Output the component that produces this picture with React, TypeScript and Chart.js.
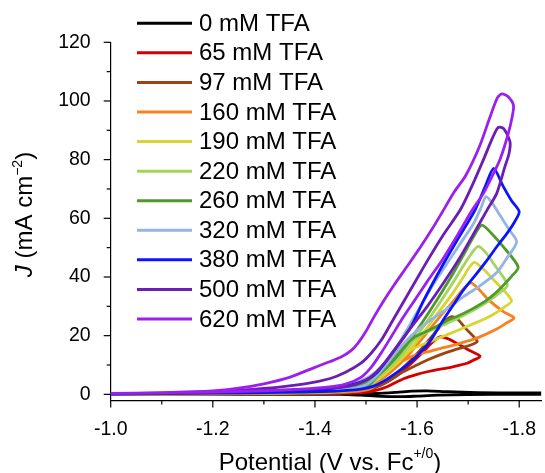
import { useEffect, useRef } from "react";
import { Chart, registerables } from "chart.js";

Chart.register(...registerables);

const FONT = '"Liberation Sans", Arial, Helvetica, sans-serif';

const seriesLabels = [
  "0 mM TFA", "65 mM TFA", "97 mM TFA", "160 mM TFA", "190 mM TFA", "220 mM TFA",
  "260 mM TFA", "320 mM TFA", "380 mM TFA", "500 mM TFA", "620 mM TFA",
];
const seriesColors = [
  "#000000", "#d40000", "#9b4514", "#f5821f", "#d8d430", "#a3d45c",
  "#4e9a2c", "#93b5e0", "#0a14ff", "#6a1eb4", "#9a1ff0",
];

const xTickValues = [-1.0, -1.1, -1.2, -1.3, -1.4, -1.5, -1.6, -1.7, -1.8];
const yTickValues = [0, 10, 20, 30, 40, 50, 60, 70, 80, 90, 100, 110, 120];

const v0 = [-1.0, -1.3, -1.45, -1.52, -1.56, -1.59, -1.62, -1.66, -1.72, -1.8, -1.9, -1.9, -1.8, -1.7, -1.64, -1.6, -1.57, -1.53, -1.49, -1.45, -1.3, -1.0];
const j0 = [0.1, 0.1, 0.15, 0.3, 0.7, 1.1, 1.2, 0.9, 0.6, 0.5, 0.5, 0.1, 0.0, -0.1, -0.3, -0.6, -0.8, -0.7, -0.3, 0.0, 0.0, 0.0];

const v65 = [-1.0, -1.2, -1.3, -1.4, -1.45, -1.5, -1.53, -1.56, -1.59, -1.615, -1.63, -1.645, -1.66, -1.68, -1.7, -1.7235, -1.71, -1.698, -1.68, -1.66, -1.64, -1.62, -1.6, -1.575, -1.555, -1.54, -1.523, -1.5, -1.47, -1.4, -1.2, -1.0];
const j65 = [0.05, 0.1, 0.15, 0.3, 0.6, 1.5, 3.2, 6.3, 10.8, 15, 17.8, 19.6, 19.0, 17.2, 15.2, 13.0, 11.6, 10.6, 9.8, 9.0, 8.4, 7.7, 6.8, 5.4, 3.8, 2.5, 1.5, 0.7, 0.4, 0.2, 0.1, 0.05];

const v97 = [-1.0, -1.2, -1.3, -1.4, -1.45, -1.49, -1.52, -1.55, -1.58, -1.61, -1.635, -1.655, -1.668, -1.68, -1.695, -1.718, -1.705, -1.69, -1.672, -1.65, -1.62, -1.595, -1.568, -1.548, -1.529, -1.503, -1.47, -1.4, -1.2, -1.0];
const j97 = [0.05, 0.1, 0.2, 0.4, 0.7, 1.4, 2.8, 5.8, 10.3, 15.8, 21, 25, 26.5, 25.5, 22.5, 18.0, 16.8, 16.0, 15.1, 13.8, 11.7, 9.6, 7.2, 5.0, 3.2, 1.5, 0.8, 0.4, 0.1, 0.05];

const v160 = [-1.0, -1.2, -1.3, -1.4, -1.45, -1.49, -1.52, -1.55, -1.58, -1.61, -1.64, -1.67, -1.69, -1.705, -1.72, -1.74, -1.769, -1.79, -1.775, -1.755, -1.723, -1.7, -1.672, -1.645, -1.62, -1.588, -1.555, -1.53, -1.51, -1.48, -1.4, -1.2, -1.0];
const j160 = [0.05, 0.15, 0.3, 0.6, 1.0, 2.0, 4.0, 7.8, 12.8, 19, 25.5, 31.5, 35.8, 38, 36, 32.2, 28.2, 26, 24.3, 22.2, 19.6, 18.2, 16.8, 15.6, 14.5, 12.8, 9.4, 4.9, 2.0, 1.0, 0.5, 0.15, 0.05];

const v190 = [-1.0, -1.2, -1.3, -1.4, -1.45, -1.49, -1.52, -1.55, -1.58, -1.61, -1.64, -1.67, -1.69, -1.703, -1.712, -1.725, -1.75, -1.785, -1.77, -1.75, -1.73, -1.7, -1.663, -1.63, -1.595, -1.57, -1.548, -1.521, -1.5, -1.46, -1.4, -1.2, -1.0];
const j190 = [0.05, 0.2, 0.4, 0.8, 1.3, 2.5, 4.7, 8.8, 14, 20.5, 27.5, 34.5, 39.8, 43.5, 45, 43.5, 39, 32, 29.6, 27.3, 25.5, 23.3, 20.6, 18.3, 15.8, 13.0, 10.0, 4.8, 2.2, 1.2, 0.7, 0.2, 0.05];

const v220 = [-1.0, -1.2, -1.3, -1.4, -1.45, -1.49, -1.52, -1.55, -1.58, -1.61, -1.64, -1.67, -1.695, -1.71, -1.72, -1.735, -1.75, -1.777, -1.76, -1.74, -1.711, -1.685, -1.659, -1.635, -1.615, -1.59, -1.568, -1.55, -1.534, -1.514, -1.49, -1.45, -1.3, -1.0];
const j220 = [0.1, 0.3, 0.5, 1.0, 1.6, 3.0, 5.4, 9.8, 15.5, 22.5, 30, 38, 45, 48.8, 50.4, 48.2, 44.5, 37.3, 34.4, 31.8, 28.7, 26.4, 24.2, 22.3, 20.8, 18.0, 15.0, 11.8, 8.3, 3.8, 2.0, 1.2, 0.5, 0.1];

const v260 = [-1.0, -1.2, -1.3, -1.4, -1.45, -1.49, -1.52, -1.55, -1.58, -1.61, -1.64, -1.67, -1.695, -1.713, -1.727, -1.745, -1.769, -1.798, -1.785, -1.76, -1.737, -1.71, -1.678, -1.663, -1.639, -1.615, -1.595, -1.57, -1.548, -1.521, -1.505, -1.47, -1.4, -1.2, -1.0];
const j260 = [0.1, 0.3, 0.6, 1.2, 1.9, 3.4, 6.0, 10.8, 17, 24.5, 32.5, 41, 48.8, 54.5, 57.7, 55, 50.3, 43.4, 40.2, 35.6, 32.2, 29.3, 26.5, 25.5, 23.2, 21.2, 19.5, 15.5, 11.0, 6.0, 3.0, 1.6, 0.8, 0.3, 0.1];

const v320 = [-1.0, -1.2, -1.3, -1.4, -1.45, -1.49, -1.52, -1.55, -1.58, -1.6, -1.63, -1.659, -1.685, -1.711, -1.725, -1.735, -1.748, -1.762, -1.78, -1.795, -1.775, -1.756, -1.725, -1.691, -1.66, -1.626, -1.6, -1.575, -1.555, -1.535, -1.514, -1.494, -1.46, -1.4, -1.2, -1.0];
const j320 = [0.15, 0.5, 0.9, 1.8, 2.8, 4.6, 7.8, 13.5, 22, 28, 37, 44.7, 51.5, 58.3, 63.5, 67.4, 65, 61.1, 56.2, 52, 46.2, 41.5, 37.2, 33.3, 29.3, 25.3, 21.8, 17.5, 13.5, 9.2, 5.0, 2.8, 1.6, 1.0, 0.4, 0.15];

const v380 = [-1.0, -1.2, -1.3, -1.4, -1.45, -1.49, -1.52, -1.555, -1.588, -1.613, -1.65, -1.68, -1.714, -1.735, -1.75, -1.769, -1.785, -1.8, -1.79, -1.775, -1.756, -1.736, -1.715, -1.691, -1.675, -1.65, -1.627, -1.605, -1.58, -1.555, -1.535, -1.515, -1.49, -1.45, -1.4, -1.2, -1.0];
const j380 = [0.1, 0.4, 0.8, 1.6, 2.5, 4.2, 7.2, 15, 23, 32, 44, 53, 63, 71.5, 77, 70.8, 66, 62.3, 58.5, 54.6, 50.3, 45.5, 40.8, 35.6, 31.5, 25, 18.5, 14.0, 10.0, 6.8, 4.5, 2.8, 1.8, 1.2, 0.9, 0.4, 0.1];

const v500 = [-1.0, -1.1, -1.2, -1.3, -1.38, -1.43, -1.46, -1.49, -1.51, -1.53, -1.55, -1.575, -1.6, -1.62, -1.65, -1.685, -1.71, -1.73, -1.748, -1.759, -1.77, -1.782, -1.78, -1.772, -1.756, -1.737, -1.71, -1.68, -1.65, -1.62, -1.59, -1.565, -1.54, -1.52, -1.5, -1.47, -1.42, -1.3, -1.15, -1.0];
const j500 = [0.2, 0.4, 0.9, 2.0, 3.6, 5.4, 7.5, 10.6, 14, 18.5, 24.5, 32, 39.5, 45.5, 54, 63, 72, 80, 87.5, 91, 90.5, 86.1, 82, 77.6, 68.5, 62.8, 54.5, 45.5, 37.5, 30, 23.2, 17.2, 11.5, 7.5, 4.8, 3.0, 2.0, 1.1, 0.5, 0.2];

const v620 = [-1.0, -1.1, -1.2, -1.25, -1.3, -1.35, -1.4, -1.43, -1.452, -1.47, -1.484, -1.5, -1.516, -1.535, -1.555, -1.58, -1.607, -1.63, -1.65, -1.672, -1.695, -1.722, -1.743, -1.757, -1.766, -1.778, -1.789, -1.782, -1.772, -1.762, -1.746, -1.73, -1.708, -1.68, -1.65, -1.62, -1.595, -1.57, -1.55, -1.53, -1.51, -1.49, -1.46, -1.42, -1.35, -1.25, -1.1, -1.0];
const j620 = [0.3, 0.6, 1.2, 2.1, 3.6, 5.8, 9.2, 11.2, 12.8, 14.8, 17.4, 21.5, 26.5, 32, 37.3, 43.5, 50.3, 56.5, 62.3, 68.8, 74.5, 84.4, 94.6, 101, 102.4, 101.5, 98.3, 91.2, 85, 79.9, 74, 68.5, 62.8, 54.5, 46, 38.5, 32, 25.5, 19.8, 14.2, 9.2, 5.8, 3.5, 2.4, 1.6, 1.0, 0.5, 0.3];

const potentials = [v0, v65, v97, v160, v190, v220, v260, v320, v380, v500, v620];
const currents = [j0, j65, j97, j160, j190, j220, j260, j320, j380, j500, j620];

const X_MIN = -1.843;
const X_MAX = -1.0;
const Y_MIN = -2.1;
const Y_MAX = 120;

function drawPieces(
  ctx: CanvasRenderingContext2D,
  pieces: { t: string; size: number; rise: number; italic?: boolean }[],
  cx: number,
  baseline: number
) {
  const widths = pieces.map((p) => {
    ctx.font = `${p.italic ? "italic " : ""}${p.size}px ${FONT}`;
    return ctx.measureText(p.t).width;
  });
  const total = widths.reduce((a, b) => a + b, 0);
  let x = cx - total / 2;
  pieces.forEach((p, i) => {
    ctx.font = `${p.italic ? "italic " : ""}${p.size}px ${FONT}`;
    ctx.fillText(p.t, x, baseline - p.rise);
    x += widths[i];
  });
}

const decorPlugin = {
  id: "decor",
  afterDraw(chart: any) {
    const ctx: CanvasRenderingContext2D = chart.ctx;
    const xs = chart.scales.x;
    const ys = chart.scales.y;
    const area = chart.chartArea;
    ctx.save();
    ctx.strokeStyle = "#000";
    ctx.lineWidth = 1.2;
    xTickValues.forEach((v) => {
      const major = Math.round(v * 10) % 2 === 0;
      const px = xs.getPixelForValue(v);
      ctx.beginPath();
      ctx.moveTo(px, area.bottom);
      ctx.lineTo(px, area.bottom + (major ? 7 : 4));
      ctx.stroke();
    });
    yTickValues.forEach((v) => {
      const major = v % 20 === 0;
      const py = ys.getPixelForValue(v);
      ctx.beginPath();
      ctx.moveTo(area.left, py);
      ctx.lineTo(area.left - (major ? 7 : 4), py);
      ctx.stroke();
    });

    ctx.fillStyle = "#000";
    ctx.textBaseline = "alphabetic";
    ctx.textAlign = "left";
    drawPieces(
      ctx,
      [
        { t: "Potential (V vs. Fc", size: 24, rise: 0 },
        { t: "+/0", size: 14, rise: 12 },
        { t: ")", size: 24, rise: 0 },
      ],
      330,
      470
    );
    ctx.save();
    ctx.translate(32, 214.5);
    ctx.rotate(-Math.PI / 2);
    drawPieces(
      ctx,
      [
        { t: "J", size: 24, rise: 0, italic: true },
        { t: " (mA cm", size: 24, rise: 0 },
        { t: "\u22122", size: 14, rise: 10 },
        { t: ")", size: 24, rise: 0 },
      ],
      0,
      0
    );
    ctx.restore();

    seriesLabels.forEach((lab, i) => {
      const y = 23.3 + i * 29.57;
      ctx.strokeStyle = seriesColors[i];
      ctx.lineWidth = 3;
      ctx.beginPath();
      ctx.moveTo(137, y);
      ctx.lineTo(192, y);
      ctx.stroke();
      ctx.fillStyle = "#000";
      ctx.font = `24px ${FONT}`;
      ctx.textBaseline = "middle";
      ctx.fillText(lab, 199, y + 1);
    });
    ctx.restore();
  },
};

export default function App() {
  const ref = useRef<HTMLCanvasElement | null>(null);
  useEffect(() => {
    document.body.style.margin = "0";
    const canvas = ref.current;
    if (!canvas) return;
    const n = seriesLabels.length;
    const chart = new Chart(canvas, {
      type: "scatter",
      data: {
        datasets: seriesLabels.map((label, i) => ({
          label,
          data: potentials[i].map((v, k) => ({ x: v, y: currents[i][k] })),
          showLine: true,
          borderColor: seriesColors[i],
          backgroundColor: seriesColors[i],
          borderWidth: 2.8,
          pointRadius: 0,
          pointHoverRadius: 0,
          tension: 0.25,
          borderJoinStyle: "round" as const,
          order: n - i,
        })),
      },
      options: {
        responsive: false,
        devicePixelRatio: 1,
        animation: false,
        events: [],
        layout: { padding: { top: 42.3, right: 0, left: 0, bottom: 0 } },
        plugins: {
          legend: { display: false },
          tooltip: { enabled: false },
          title: { display: false },
        },
        scales: {
          x: {
            type: "linear",
            reverse: true,
            min: X_MIN,
            max: X_MAX,
            grid: { display: false },
            border: { display: true, color: "#000", width: 1.2 },
            ticks: {
              stepSize: 0.2,
              includeBounds: false,
              autoSkip: false,
              maxRotation: 0,
              padding: 9,
              color: "#000",
              font: { family: FONT, size: 19.5 },
              callback: (v: any) => Number(v).toFixed(1),
            },
            afterFit: (s: any) => {
              s.height = 72.5;
            },
          },
          y: {
            type: "linear",
            min: Y_MIN,
            max: Y_MAX,
            grid: { display: false },
            border: { display: true, color: "#000", width: 1.2 },
            ticks: {
              stepSize: 20,
              includeBounds: false,
              autoSkip: false,
              padding: 12,
              color: "#000",
              font: { family: FONT, size: 19.5 },
              callback: (v: any) => String(Math.round(Number(v))),
            },
            afterFit: (s: any) => {
              s.width = 110.7;
            },
          },
        },
      },
      plugins: [decorPlugin],
    });
    return () => chart.destroy();
  }, []);
  return (
    <div style={{ position: "absolute", left: 0, top: 0, width: 545, height: 473 }}>
      <canvas ref={ref} width={545} height={473} />
    </div>
  );
}
